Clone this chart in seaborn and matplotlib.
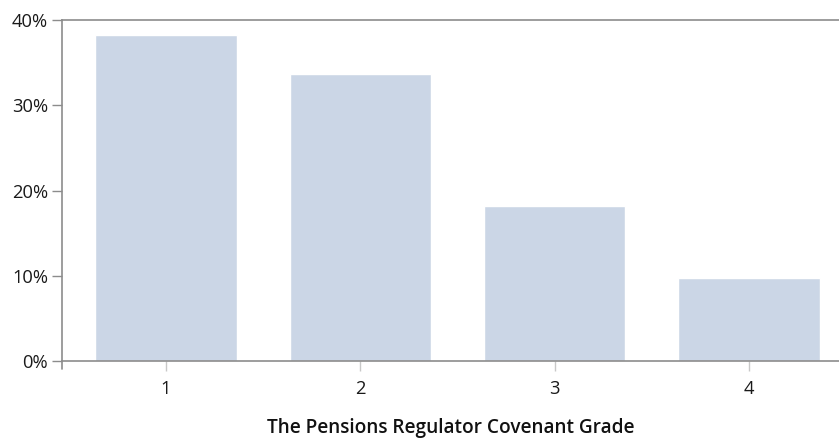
import matplotlib
matplotlib.use("Agg")
import matplotlib.pyplot as plt
import seaborn as sns
import pandas as pd
from matplotlib.ticker import PercentFormatter

grades = ["1", "2", "3", "4"]
shares = [38.3, 33.7, 18.2, 9.7]
yticks = [0, 10, 20, 30, 40]

sns.set_style("white")
plt.rcParams["font.family"] = ["Open Sans", "DejaVu Sans"]

df = pd.DataFrame({"grade": grades, "share": shares})

fig = plt.figure(figsize=(8.39, 4.4), dpi=100)
ax = fig.add_axes([0.0739, 0.1795, 0.9261, 0.775])

sns.barplot(data=df, x="grade", y="share", color="#cbd6e6", width=0.726,
            saturation=1, ax=ax)

# the original is cropped a bit on the right
ax.set_xlim(-0.535, 3.463)
ax.set_ylim(0, 40)
ax.set_yticks(yticks)
ax.yaxis.set_major_formatter(PercentFormatter(decimals=0))

for s in ["left", "bottom", "top"]:
    ax.spines[s].set_visible(True)
    ax.spines[s].set_color("#8c8c8c")
    ax.spines[s].set_linewidth(1.2)
ax.spines["right"].set_visible(False)

ax.tick_params(axis="y", direction="out", length=7, width=1, color="#8c8c8c",
               labelsize=13.2, labelcolor="#1a1a1a", pad=3, left=True)
ax.tick_params(axis="x", direction="out", length=7, width=1, color="#c8c8c8",
               labelsize=13.2, labelcolor="#1a1a1a", pad=7, bottom=True)

# left spine runs a little below the baseline
ax.plot([-0.535, -0.535], [0, -0.9], color="#8c8c8c", lw=1.2, clip_on=False)

ax.set_ylabel("")
ax.set_xlabel("The Pensions Regulator Covenant Grade", fontsize=13.7,
              fontweight="semibold", color="#111111", labelpad=14)

fig.savefig("out.png", dpi=100)
